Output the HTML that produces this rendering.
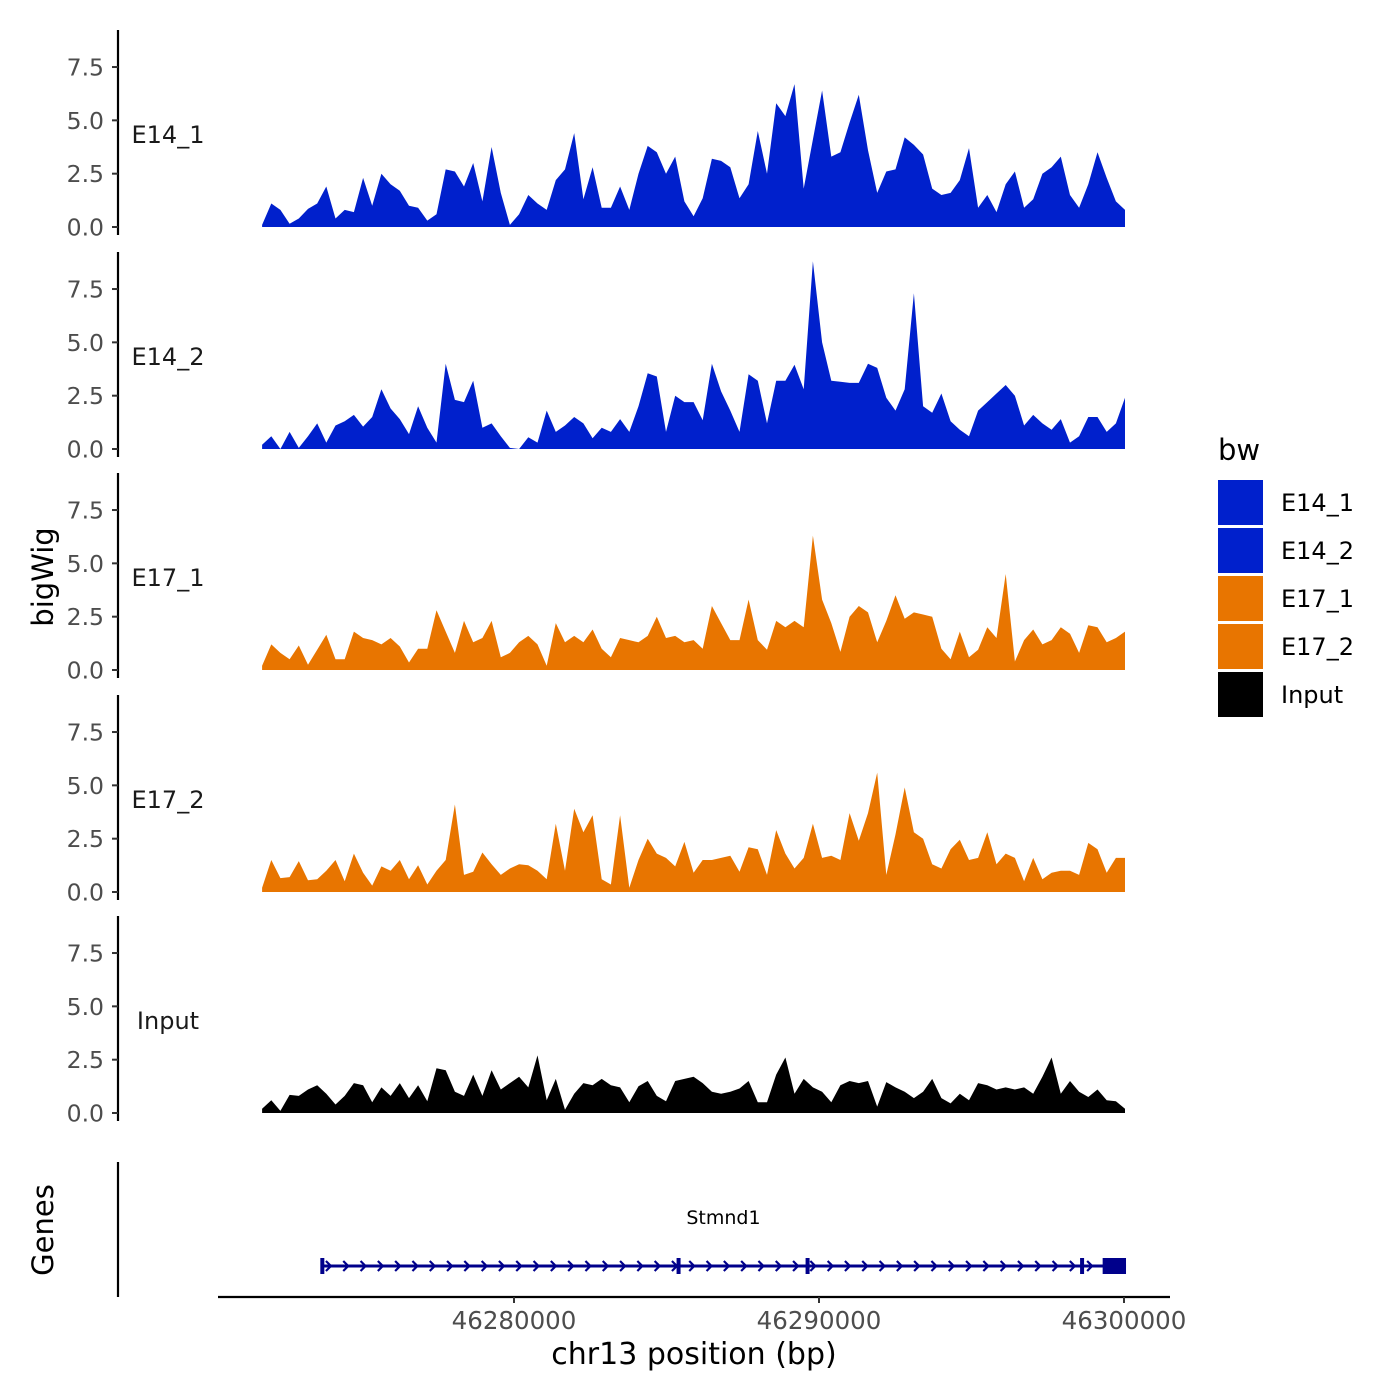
<!DOCTYPE html>
<html><head><meta charset="utf-8"><style>
html,body{margin:0;padding:0;background:#fff;}
svg{display:block;font-family:"DejaVu Sans","Liberation Sans",sans-serif;}
</style></head><body>
<svg id="chart" width="1400" height="1400" viewBox="0 0 1400 1400" xmlns="http://www.w3.org/2000/svg">
<rect x="0" y="0" width="1400" height="1400" fill="#fff"/>
<g id="tracks"></g>
<g id="genes"></g>
<g id="xaxis"></g>
<text x="53" y="577" transform="rotate(-90 53 577)" font-size="29" text-anchor="middle" fill="#000">bigWig</text>
<text x="53" y="1230" transform="rotate(-90 53 1230)" font-size="29" text-anchor="middle" fill="#000">Genes</text>
<text x="694" y="1364" font-size="30" text-anchor="middle" fill="#000">chr13 position (bp)</text>
<g id="legend">
<text x="1218" y="460" font-size="29" fill="#000">bw</text>
</g>
</svg>
<script>
const binStart = 46271740;
const binStep = 301;
const trackNames = ["E14_1","E14_2","E17_1","E17_2","Input"];
const trackColors = ["#0020cc","#0020cc","#e87500","#e87500","#000000"];
const e14_1 = [0.1,1.1,0.8,0.15,0.4,0.85,1.1,1.9,0.4,0.8,0.7,2.3,1.0,2.5,2.0,1.7,1.0,0.9,0.3,0.6,2.7,2.6,1.9,3.0,1.2,3.75,1.6,0.1,0.6,1.5,1.1,0.8,2.2,2.7,4.4,1.3,2.8,0.9,0.9,1.9,0.8,2.5,3.8,3.5,2.5,3.3,1.2,0.5,1.35,3.2,3.1,2.8,1.35,2.0,4.5,2.5,5.8,5.2,6.7,1.8,4.1,6.4,3.3,3.5,4.9,6.2,3.6,1.6,2.6,2.7,4.2,3.85,3.4,1.8,1.5,1.6,2.2,3.7,0.9,1.5,0.7,2.0,2.6,0.9,1.3,2.5,2.8,3.3,1.5,0.9,2.0,3.5,2.3,1.2,0.8];
const e14_2 = [0.2,0.6,0,0.8,0.05,0.6,1.2,0.3,1.1,1.3,1.6,1.05,1.5,2.8,1.9,1.4,0.7,2.0,1.0,0.3,4.0,2.3,2.2,3.2,1.0,1.2,0.6,0.05,0,0.55,0.3,1.8,0.8,1.1,1.5,1.2,0.5,1.0,0.8,1.4,0.8,2.0,3.55,3.4,0.8,2.5,2.2,2.2,1.35,4.0,2.7,1.8,0.8,3.5,3.2,1.2,3.2,3.2,3.95,2.8,8.8,5.0,3.2,3.15,3.1,3.1,4.0,3.8,2.4,1.8,2.8,7.3,2.0,1.7,2.6,1.3,0.9,0.6,1.8,2.2,2.6,3.0,2.5,1.1,1.6,1.2,0.9,1.4,0.3,0.6,1.5,1.5,0.8,1.2,2.4];
const e17_1 = [0.2,1.2,0.8,0.5,1.15,0.25,0.95,1.65,0.5,0.5,1.8,1.5,1.4,1.2,1.5,1.1,0.35,1.0,1.0,2.8,1.8,0.8,2.3,1.3,1.5,2.3,0.6,0.8,1.3,1.6,1.2,0.2,2.2,1.3,1.6,1.3,1.9,1.0,0.6,1.5,1.4,1.3,1.6,2.5,1.5,1.6,1.3,1.4,1.0,3.0,2.2,1.4,1.4,3.3,1.4,0.95,2.3,2.0,2.3,2.0,6.3,3.3,2.2,0.85,2.5,3.0,2.7,1.3,2.3,3.5,2.4,2.7,2.6,2.5,1.0,0.5,1.8,0.6,0.95,2.0,1.5,4.5,0.4,1.4,1.9,1.2,1.4,2.0,1.7,0.8,2.1,2.0,1.3,1.5,1.8];
const e17_2 = [0.2,1.5,0.65,0.7,1.45,0.55,0.6,1.0,1.5,0.5,1.8,0.9,0.3,1.2,1.0,1.5,0.6,1.25,0.35,1.0,1.5,4.1,0.8,0.95,1.85,1.3,0.8,1.1,1.3,1.25,1.0,0.6,3.2,1.0,3.9,2.8,3.6,0.6,0.35,3.6,0.2,1.5,2.5,1.8,1.6,1.2,2.35,0.9,1.5,1.5,1.6,1.7,0.95,2.1,2.0,0.8,2.9,1.8,1.1,1.6,3.2,1.6,1.7,1.5,3.7,2.4,3.7,5.6,0.8,2.7,4.9,2.8,2.5,1.3,1.1,2.0,2.45,1.5,1.6,2.8,1.3,1.8,1.6,0.5,1.6,0.6,0.9,1.0,1.0,0.8,2.3,2.0,0.9,1.6,1.6];
const inputVals = [0.2,0.6,0.1,0.85,0.8,1.1,1.3,0.9,0.4,0.8,1.4,1.3,0.5,1.2,0.8,1.4,0.7,1.3,0.55,2.1,2.0,1.0,0.8,1.8,0.8,2.0,1.1,1.4,1.7,1.2,2.7,0.6,1.6,0.15,0.9,1.4,1.3,1.6,1.3,1.2,0.5,1.25,1.5,0.8,0.55,1.5,1.6,1.7,1.4,1.0,0.9,1.0,1.15,1.5,0.5,0.5,1.8,2.6,0.9,1.6,1.2,1.0,0.5,1.3,1.5,1.4,1.5,0.3,1.45,1.2,1.0,0.7,1.0,1.6,0.7,0.45,0.9,0.6,1.4,1.3,1.1,1.2,1.1,1.2,0.9,1.7,2.6,0.9,1.5,1.0,0.75,1.1,0.6,0.55,0.2];
const trackValues = [e14_1,e14_2,e17_1,e17_2,inputVals];
const yTicks = [0,2.5,5,7.5];
const yTickLabels = ["0.0","2.5","5.0","7.5"];
const xTicks = [46280000,46290000,46300000];
const xTickLabels = ["46280000","46290000","46300000"];
const geneName = "Stmnd1";
const geneStart = 46273670;
const geneEnd = 46300066;
const exonStarts = [46273650,46285330,46289560,46298560,46299300];
const exonEnds = [46273750,46285430,46289660,46298660,46300066];

const NS = "http://www.w3.org/2000/svg";
function xScale(bp){ return 514 + (bp - 46280000) / 10000 * 305; }
const panelZero = [227,449,670,892,1113];
function yScale(p, v){ return panelZero[p] - v * 21.33; }
function mk(tag, attrs, parent){ const e = document.createElementNS(NS, tag); for (const k in attrs) e.setAttribute(k, attrs[k]); parent.appendChild(e); return e; }

const tracks = document.getElementById("tracks");
trackValues.forEach((vals, p) => {
  const g = mk("g", {}, tracks);
  
  
  let d = "M" + xScale(binStart).toFixed(1) + "," + panelZero[p];
  vals.forEach((v, i) => { d += " L" + xScale(binStart + i * binStep).toFixed(1) + "," + yScale(p, v).toFixed(1); });
  d += " L" + xScale(binStart + (vals.length - 1) * binStep).toFixed(1) + "," + panelZero[p] + " Z";
  const area = mk("path", {d: d, fill: trackColors[p], stroke: "none"}, g);
  
  
  const ax = mk("line", {x1: 118, x2: 118, y1: panelZero[p] - 197, y2: panelZero[p] + 8, stroke: "#000", "stroke-width": 2.2}, g);
  
  
  yTicks.forEach((t, k) => {
    const y = yScale(p, t);
    const tk = mk("line", {x1: 112, x2: 118, y1: y, y2: y, stroke: "#333", "stroke-width": 2}, g);
    
    
    const lb = mk("text", {x: 104, y: y + 8.5, "font-size": 23.5, "text-anchor": "end", fill: "#4d4d4d"}, g);
    lb.textContent = yTickLabels[k];
    
    
  });
  const tl = mk("text", {x: 168, y: panelZero[p] - 84, "font-size": 24, "text-anchor": "middle", fill: "#1a1a1a"}, g);
  tl.textContent = trackNames[p];
  
  
});

// genes
const gg = document.getElementById("genes");
const gAx = mk("line", {x1: 118, x2: 118, y1: 1162, y2: 1297, stroke: "#000", "stroke-width": 2.2}, gg);


const gy = 1266;
const gl = mk("line", {x1: xScale(geneStart), x2: xScale(geneEnd), y1: gy, y2: gy, stroke: "#00008b", "stroke-width": 3}, gg);


for (let x = xScale(geneStart) + 8; x < xScale(geneEnd) - 20; x += 17.3) {
  const ar = mk("path", {d: `M${x-3},${gy-5} L${x+2},${gy} L${x-3},${gy+5}`, fill: "none", stroke: "#00008b", "stroke-width": 2.2}, gg);
  
  
}
exonStarts.forEach((s, i) => {
  const x1 = xScale(s), x2 = xScale(exonEnds[i]);
  const h = 16;
  const ex = mk("rect", {x: x1, y: gy - h / 2, width: Math.max(4, x2 - x1), height: h, fill: "#00008b"}, gg);
  
  
});
const gn = mk("text", {x: xScale((geneStart + geneEnd) / 2), y: 1224, "font-size": 19, "text-anchor": "middle", fill: "#000"}, gg);
gn.textContent = geneName;



// x axis
const xa = document.getElementById("xaxis");
const xl = mk("line", {x1: 218, x2: 1170, y1: 1297, y2: 1297, stroke: "#000", "stroke-width": 2.2}, xa);


xTicks.forEach((t, k) => {
  const x = xScale(t);
  const tk = mk("line", {x1: x, x2: x, y1: 1297, y2: 1303, stroke: "#333", "stroke-width": 2}, xa);
  
  
  const lb = mk("text", {x: x, y: 1329, "font-size": 24.5, "text-anchor": "middle", fill: "#4d4d4d"}, xa);
  lb.textContent = xTickLabels[k];
  
  
});

// legend
const lg = document.getElementById("legend");
trackNames.forEach((n, i) => {
  const y = 480 + i * 48;
  const sw = mk("rect", {x: 1218, y: y, width: 45, height: 45, fill: trackColors[i]}, lg);
  
  
  const t = mk("text", {x: 1281, y: y + 31, "font-size": 24, fill: "#000"}, lg);
  t.textContent = n;
  
  
});
</script>
</body></html>
